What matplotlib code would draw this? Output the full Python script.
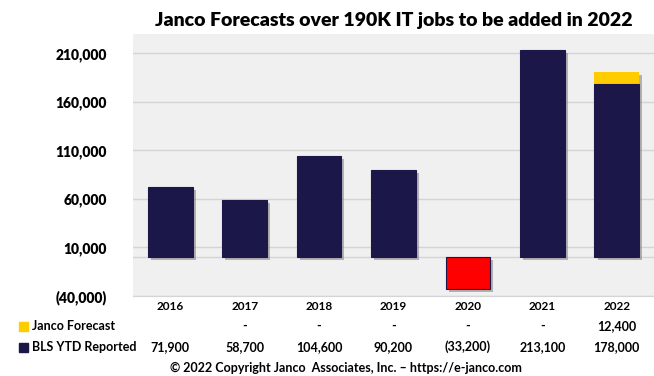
import matplotlib.pyplot as plt
import matplotlib.patheffects as pe
import matplotlib.transforms as mtransforms

plt.rcParams['font.family'] = ['Lato', 'DejaVu Sans']
plt.rcParams['font.weight'] = 'bold'

years = ['2016', '2017', '2018', '2019', '2020', '2021', '2022']
bls_reported = [71900, 58700, 104600, 90200, -33200, 213100, 178000]
janco_forecast = [None, 0, 0, 0, 0, 0, 12400]
yticks = [-40000, 10000, 60000, 110000, 160000, 210000]

navy = '#1B1849'
yellow = '#FFCC00'
red = '#FF0000'


def fmt(v):
    if v is None:
        return ''
    if v == 0:
        return '-'
    if v < 0:
        return f'({-v:,})'
    return f'{v:,}'


def ytick_fmt(v):
    v = int(v)
    return f'({-v:,})' if v < 0 else f'{v:,}'


fig = plt.figure(figsize=(6.54, 3.76), dpi=100)
ax = fig.add_axes([133 / 654, 80 / 376, 1 - 133 / 654, 262 / 376])
ax.set_facecolor('#F0F0F0')

x = list(range(len(years)))
shadow = [pe.SimplePatchShadow(offset=(2.2, -2.2), shadow_rgbFace='#7F7F7F', alpha=0.55), pe.Normal()]

colors = [red if v < 0 else navy for v in bls_reported]
ax.bar(x, bls_reported, width=0.6, color=colors, edgecolor=navy, linewidth=0.8,
       path_effects=shadow, zorder=3)

jf = [v if v else 0 for v in janco_forecast]
ax.bar(x, jf, width=0.6, bottom=bls_reported, color=yellow, linewidth=0,
       path_effects=shadow, zorder=2)

ax.set_xlim(-0.5, len(years) - 0.5)
ax.set_ylim(-40000, 230000)
ax.set_yticks(yticks)
ax.set_yticklabels([ytick_fmt(t) for t in yticks], fontsize=10, fontweight='heavy')
ax.tick_params(axis='y', length=0, pad=19)
ax.set_xticks([])
ax.grid(axis='y', color='#D4D4D4', linewidth=1, zorder=0)
ax.set_axisbelow(True)
ax.axhline(0, color='#D4D4D4', linewidth=1, zorder=1)
for s in ['top', 'right', 'left']:
    ax.spines[s].set_visible(False)
ax.spines['bottom'].set_color('#D4D4D4')

ax.set_title('Janco Forecasts over 190K IT jobs to be added in 2022',
             fontsize=14, fontweight='heavy', pad=6)

# data table below the chart
tr = mtransforms.blended_transform_factory(ax.transData, fig.transFigure)
for i, yr in enumerate(years):
    ax.text(i, 1 - 307 / 376, yr, transform=tr, ha='center', va='center', fontsize=8.5)
    ax.text(i, 1 - 326 / 376, fmt(janco_forecast[i]), transform=tr, ha='center', va='center', fontsize=9)
    ax.text(i, 1 - 347 / 376, fmt(bls_reported[i]), transform=tr, ha='center', va='center', fontsize=9)

fig.patches.append(plt.Rectangle((19 / 654, 1 - 331 / 376), 9 / 654, 9 / 376,
                                 transform=fig.transFigure, color=yellow))
fig.patches.append(plt.Rectangle((19 / 654, 1 - 352 / 376), 9 / 654, 9 / 376,
                                 transform=fig.transFigure, color=navy))
fig.text(32 / 654, 1 - 326 / 376, 'Janco Forecast', ha='left', va='center', fontsize=9)
fig.text(32 / 654, 1 - 347 / 376, 'BLS YTD Reported', ha='left', va='center', fontsize=9)

fig.text(346 / 654, 1 - 368 / 376, '\u00a9 2022 Copyright Janco  Associates, Inc. \u2013 https://e-janco.com',
         ha='center', va='center', fontsize=9)

fig.savefig('out.png', dpi=100)
